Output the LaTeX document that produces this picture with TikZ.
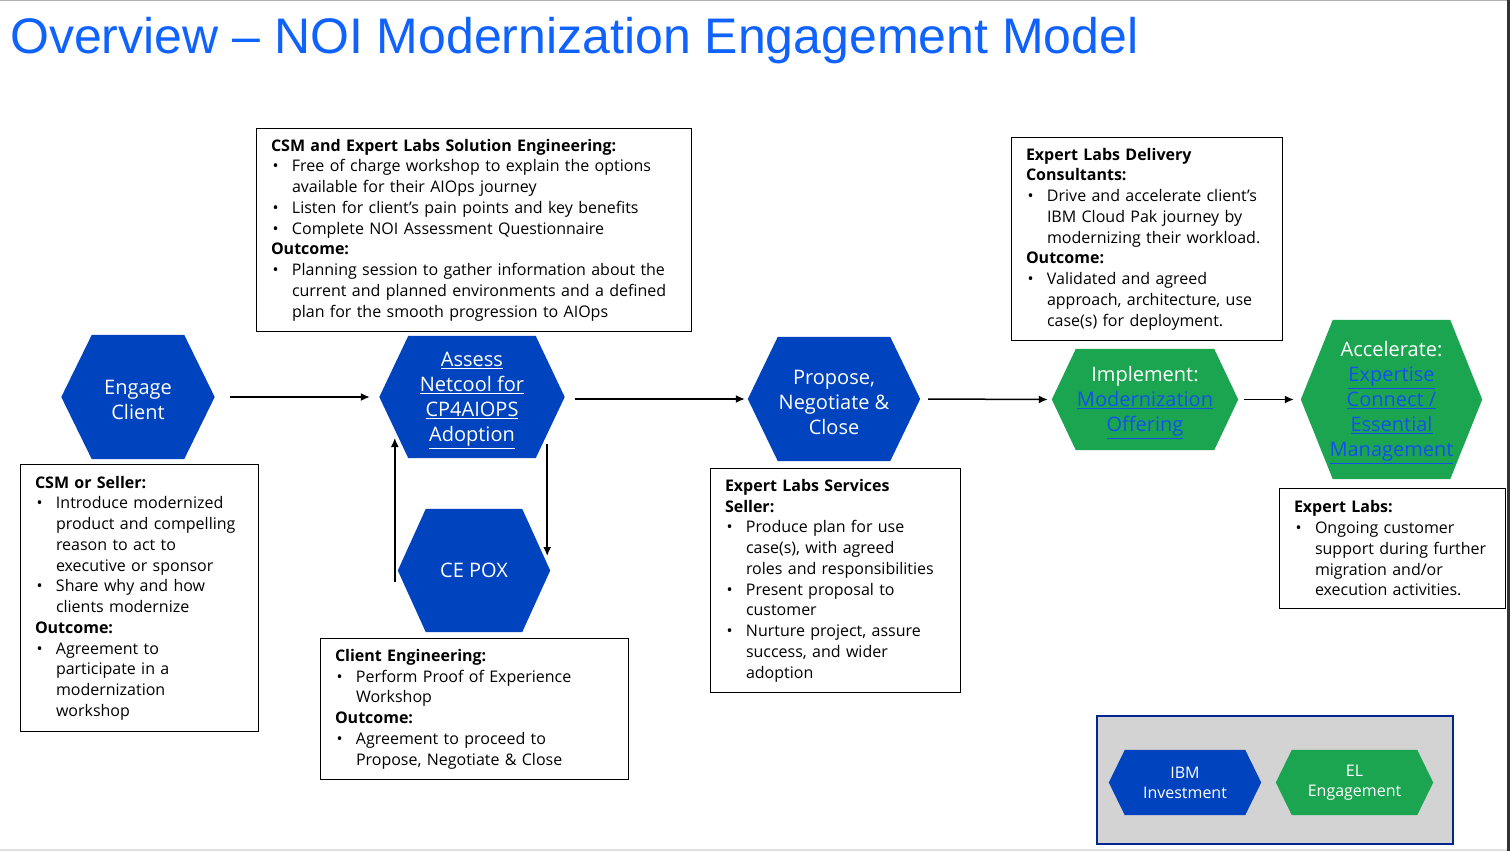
\documentclass[tikz,border=0pt]{standalone}
\usepackage{fontspec}
\setmainfont{Open Sans}
\newfontfamily\titlefont{Liberation Sans}
\usetikzlibrary{arrows.meta,backgrounds}
\definecolor{ibmblue}{RGB}{0,67,190}
\definecolor{elgreen}{RGB}{27,165,80}
\definecolor{titleblue}{RGB}{15,98,254}
\definecolor{linkblue}{RGB}{20,80,240}
\definecolor{legendgray}{RGB}{211,211,211}
\definecolor{legendnavy}{RGB}{0,40,140}
\setlength{\parindent}{0pt}
\newcommand{\bul}{\makebox[21pt][l]{\hspace{1.5pt}•}}
\newcommand{\ind}{\hspace*{21pt}}
\newcommand{\lift}{\rule{0pt}{21pt}}
\newcommand{\link}[1]{{\color{linkblue}\underline{#1}}}
% hexagon behind a named node: node, inset, colour
\newcommand{\hexfill}[3]{\fill[#3] (#1.west) -- ([xshift=#2]#1.north west) -- ([xshift=-#2]#1.north east) -- (#1.east) -- ([xshift=-#2]#1.south east) -- ([xshift=#2]#1.south west) -- cycle;}
\tikzset{
  hexlabel/.style={text=white, align=center, inner sep=0pt, font=\fontsize{20}{25}\selectfont},
  notebox/.style={draw=black, line width=1pt, anchor=north west, align=left, inner xsep=14.5pt, inner ysep=0pt, font=\fontsize{16}{20.75}\selectfont},
  flow/.style={->, line width=1.5pt}
}
\begin{document}
\begin{tikzpicture}[x=1pt,y=-1pt,>={Latex[length=9pt,width=8pt]}]
\useasboundingbox (0,0) rectangle (1510,851);
\draw[gray!60, line width=1.5pt] (0,0.75) -- (1510,0.75);
\draw[gray!25, line width=2pt] (0,850) -- (1510,850);
\draw[black!80, line width=3pt] (1508.5,0) -- (1508.5,851);

\node[anchor=base west, inner sep=0pt, text=titleblue, font=\titlefont\fontsize{50}{60}\selectfont] (title) at (10,54) {Overview – NOI Modernization Engagement Model};

% steps
\node[hexlabel, minimum width=153pt, minimum height=124pt] (engage) at (138,397) {\lift Engage\\Client};
\node[hexlabel, minimum width=185pt, minimum height=122pt] (assess) at (472,397) {\lift\underline{Assess}\\\underline{Netcool for}\\\underline{CP4AIOPS}\\\underline{Adoption}};
\node[hexlabel, minimum width=152pt, minimum height=123pt] (cepox) at (474,570.5) {CE POX};
\node[hexlabel, minimum width=172pt, minimum height=124pt] (propose) at (834,399) {\lift Propose,\\Negotiate \&\\Close};
\node[hexlabel, minimum width=186pt, minimum height=101pt] (implement) at (1145,399.5) {\lift Implement:\\\link{Modernization}\\\link{Offering}};
\node[hexlabel, minimum width=181pt, minimum height=159pt] (accelerate) at (1391.5,399.5) {\lift Accelerate:\\\link{Expertise}\\\link{Connect /}\\\link{Essential}\\\link{Management}};

% legend
\node[hexlabel, font=\fontsize{16}{20}\selectfont, minimum width=152pt, minimum height=65pt] (ibminv) at (1185,782.5) {IBM\\Investment};
\node[hexlabel, font=\fontsize{16}{20}\selectfont, minimum width=157pt, minimum height=65pt] (elengage) at (1354.5,782.5) {EL\\Engagement};

\begin{scope}[on background layer]
  \node[draw=legendnavy, fill=legendgray, line width=2pt, minimum width=356pt, minimum height=128pt] (legend) at (1275,780) {};
  \hexfill{engage}{30.5pt}{ibmblue}
  \hexfill{assess}{29pt}{ibmblue}
  \hexfill{cepox}{28pt}{ibmblue}
  \hexfill{propose}{30pt}{ibmblue}
  \hexfill{implement}{24pt}{elgreen}
  \hexfill{accelerate}{32pt}{elgreen}
  \hexfill{ibminv}{16pt}{ibmblue}
  \hexfill{elengage}{16pt}{elgreen}
\end{scope}

% arrows
\draw[flow, shorten <=15pt, shorten >=9.5pt] (engage.east) -- (assess.west);
\draw[flow, shorten <=10pt, shorten >=3pt] (assess.east |- propose.west) -- (propose.west);
\draw[flow, shorten <=8pt, shorten >=4pt] (propose.east) -- (implement.west);
\draw[flow, shorten <=6pt, shorten >=7pt] (implement.east) -- (accelerate.west);
\coordinate (upfoot) at ([xshift=-3pt,yshift=-11.5pt]cepox.west);
\coordinate (downtop) at ([xshift=-17.5pt,yshift=14pt]assess.south east);
\draw[flow] (upfoot) -- (upfoot |- 0,438);
\draw[flow] (downtop) -- (downtop |- 0,556);

% notes
\node[notebox, text width=209pt, minimum height=267pt] (sellernote) at (20,464) {%
\textbf{CSM or Seller:}\\
\bul Introduce modernized\\
\ind product and compelling\\
\ind reason to act to\\
\ind executive or sponsor\\
\bul Share why and how\\
\ind clients modernize\\
\textbf{Outcome:}\\
\bul Agreement to\\
\ind participate in a\\
\ind modernization\\
\ind workshop};

\node[notebox, text width=406pt, minimum height=203pt] (solutionnote) at (256,128) {%
\textbf{CSM and Expert Labs Solution Engineering:}\\
\bul Free of charge workshop to explain the options\\
\ind available for their AIOps journey\\
\bul Listen for client’s pain points and key benefits\\
\bul Complete NOI Assessment Questionnaire\\
\textbf{Outcome:}\\
\bul Planning session to gather information about the\\
\ind current and planned environments and a defined\\
\ind plan for the smooth progression to AIOps};

\node[notebox, text width=279pt, minimum height=141pt] (clientnote) at (320,638) {%
\textbf{Client Engineering:}\\
\bul Perform Proof of Experience\\
\ind Workshop\\
\textbf{Outcome:}\\
\bul Agreement to proceed to\\
\ind Propose, Negotiate \& Close};

\node[notebox, text width=221pt, minimum height=224pt] (servicesnote) at (710,468) {%
\textbf{Expert Labs Services}\\
\textbf{Seller:}\\
\bul Produce plan for use\\
\ind case(s), with agreed\\
\ind roles and responsibilities\\
\bul Present proposal to\\
\ind customer\\
\bul Nurture project, assure\\
\ind success, and wider\\
\ind adoption};

\node[notebox, text width=242pt, minimum height=203pt] (deliverynote) at (1011,137) {%
\textbf{Expert Labs Delivery}\\
\textbf{Consultants:}\\
\bul Drive and accelerate client’s\\
\ind IBM Cloud Pak journey by\\
\ind modernizing their workload.\\
\textbf{Outcome:}\\
\bul Validated and agreed\\
\ind approach, architecture, use\\
\ind case(s) for deployment.};

\node[notebox, text width=197pt, minimum height=120pt] (labsnote) at (1279,488) {%
\textbf{Expert Labs:}\\
\bul Ongoing customer\\
\ind support during further\\
\ind migration and/or\\
\ind execution activities.};
\end{tikzpicture}
\end{document}
